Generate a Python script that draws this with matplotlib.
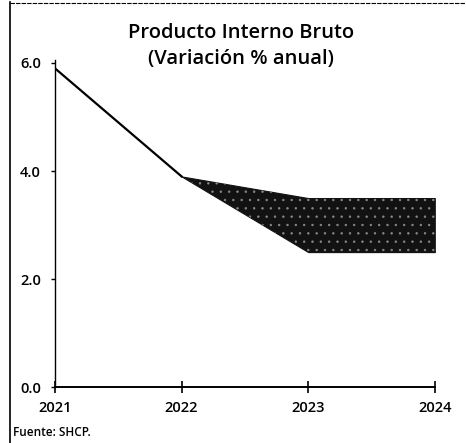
import matplotlib.pyplot as plt
from matplotlib.lines import Line2D

# datos
years = [2021, 2022, 2023, 2024]
pib_obs = [5.9, 3.9]
obs_years = [2021, 2022]
band_years = [2022, 2023, 2024]
band_hi = [3.9, 3.5, 3.5]
band_lo = [3.9, 2.5, 2.5]
yticks = [0.0, 2.0, 4.0, 6.0]
ylabels = ["0.0", "2.0", "4.0", "6.0"]

plt.rcParams['font.family'] = ['Open Sans', 'DejaVu Sans']
plt.rcParams['hatch.linewidth'] = 0.5

fig = plt.figure(figsize=(4.66, 4.43), dpi=100)
ax = fig.add_axes([0.118, 0.126, 0.815, 0.738])

ax.plot(obs_years, pib_obs, color='black', lw=1.6)
# banda de pronostico (relleno oscuro con puntos)
ax.fill_between(band_years, band_lo, band_hi, facecolor='#121212', edgecolor='#121212', lw=0.8)
ax.fill_between(band_years, band_lo, band_hi, facecolor='none', edgecolor='#8a8a8a',
                hatch='..', lw=0)

ax.set_xlim(2021, 2024)
ax.set_ylim(0, 6.05)
ax.set_xticks(years)
ax.set_xticklabels([str(y) for y in years], fontsize=10.5, fontweight='semibold')
ax.set_yticks(yticks)
ax.set_yticklabels(ylabels, fontsize=10.5, fontweight='semibold')
ax.tick_params(axis='x', direction='inout', length=8, width=1.2, pad=6)
ax.tick_params(axis='y', direction='out', length=3, width=1.0, pad=7)

ax.spines['top'].set_visible(False)
ax.spines['right'].set_visible(False)
ax.spines['bottom'].set_linewidth(1.4)
ax.spines['left'].set_linewidth(1.0)

fig.text(0.517, 0.925, "Producto Interno Bruto", ha='center', va='center', fontsize=14.5,
         fontweight='semibold')
fig.text(0.517, 0.866, "(Variación % anual)", ha='center', va='center', fontsize=14.5,
         fontweight='semibold')
fig.text(0.027, 0.023, "Fuente: SHCP.", ha='left', va='center', fontsize=8.5,
         fontweight='semibold')

# marco del recuadro escaneado
fig.add_artist(Line2D([0.021, 0.021], [0.0, 0.995], transform=fig.transFigure, color='black', lw=1.2))
fig.add_artist(Line2D([0.021, 1.0], [0.993, 0.993], transform=fig.transFigure, color='black', lw=0.8, ls=(0, (4, 1))))

fig.savefig("out.png", dpi=100)
